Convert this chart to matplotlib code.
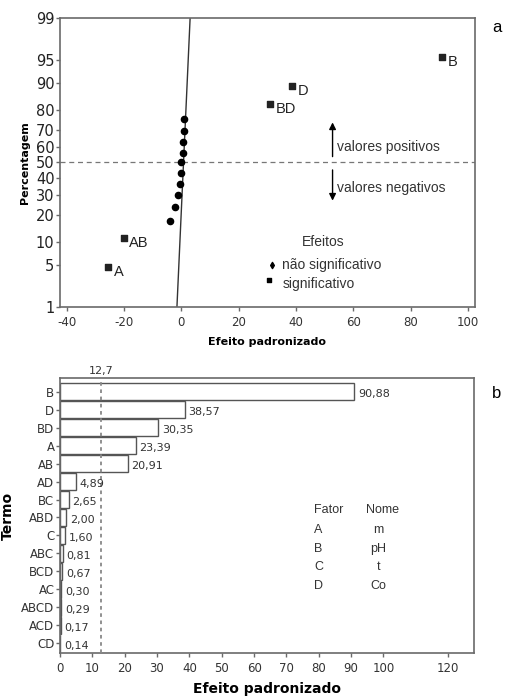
import numpy as np
import matplotlib
matplotlib.use("Agg")
import matplotlib.pyplot as plt
from statistics import NormalDist

# ---------------- data ----------------
# panel a: normal probability plot
sig_labels = ["A", "AB", "BD", "D", "B"]
sig_x = [-25.5, -20.0, 30.9, 38.8, 91.0]
sig_pct = [4.6, 11.2, 82.6, 89.1, 95.5]

nonsig_x = [-3.8, -2.1, -1.2, -0.5, 0.0, 0.0, 0.6, 0.6, 0.9, 0.8]
nonsig_pct = [17.3, 23.5, 30.0, 36.5, 43.0, 50.0, 56.0, 62.7, 69.4, 76.0]

fit_x = [-1.5, 3.1]
fit_pct = [1.0, 99.0]

pct_ticks = [1, 5, 10, 20, 30, 40, 50, 60, 70, 80, 90, 95, 99]
xa_ticks = [-40, -20, 0, 20, 40, 60, 80, 100]

# panel b: Pareto chart
terms = ["B", "D", "BD", "A", "AB", "AD", "BC", "ABD", "C", "ABC", "BCD",
         "AC", "ABCD", "ACD", "CD"]
effects = [90.88, 38.57, 30.35, 23.39, 20.91, 4.89, 2.65, 2.00, 1.60, 0.81,
           0.67, 0.30, 0.29, 0.17, 0.14]
critical = 12.7
xb_ticks = [0, 10, 20, 30, 40, 50, 60, 70, 80, 90, 100, 120]
factors = ["A", "B", "C", "D"]
names = ["m", "pH", "t", "Co"]

# ---------------- helpers ----------------
_nd = NormalDist()
_vppf = np.vectorize(_nd.inv_cdf, otypes=[float])
_vcdf = np.vectorize(_nd.cdf, otypes=[float])


def _fwd(p):
    p = np.asarray(p, dtype=float)
    q = np.clip(p / 100.0, 1e-9, 1 - 1e-9)
    return _vppf(q)


def _inv(z):
    z = np.asarray(z, dtype=float)
    return _vcdf(z) * 100.0


def fmt(v):
    return f"{v:.2f}".replace(".", ",")


W, H = 509, 699
fig = plt.figure(figsize=(W / 100, H / 100), dpi=100)

spine_c = "#6a6a6a"
tick_fs = 8.5
ann_font = ["Liberation Sans", "DejaVu Sans"]

# ---------------- panel a ----------------
axa = fig.add_axes([60 / W, 1 - 307 / H, (475 - 60) / W, (307 - 18) / H])
axa.set_yscale("function", functions=(_fwd, _inv))
axa.set_ylim(1, 99)
axa.set_xlim(-42.3, 102.5)
axa.set_yticks(pct_ticks)
axa.set_yticklabels([str(t) for t in pct_ticks], fontsize=10.5, color="#222222")
axa.yaxis.set_minor_locator(matplotlib.ticker.NullLocator())
axa.set_xticks(xa_ticks)
axa.set_xticklabels([str(t) for t in xa_ticks], fontsize=tick_fs, color="#333333")
for s in axa.spines.values():
    s.set_color(spine_c)
    s.set_linewidth(1.2)
axa.tick_params(direction="out", length=3, color=spine_c, width=1)
axa.tick_params(axis="y", pad=1)

axa.plot(fit_x, fit_pct, color="#333333", lw=1.0, zorder=2)
axa.axhline(50, color="#777777", lw=0.9, ls=(0, (4, 3)), zorder=1)
axa.scatter(nonsig_x, nonsig_pct, marker="o", s=20, color="black", zorder=3)
axa.scatter(sig_x, sig_pct, marker="s", s=20, color="#222222", zorder=3)
for lx, ly, lab in zip(sig_x, sig_pct, sig_labels):
    axa.annotate(lab, (lx, ly), xytext=(4, -3.5),
                 textcoords="offset points", fontsize=10.5, family=ann_font,
                 color="#222222", va="center", ha="left")

# arrows
axa.annotate("", xy=(52.8, 75.5), xytext=(52.8, 52),
             arrowprops=dict(arrowstyle="-|>", color="black", lw=1.0,
                             mutation_scale=10))
axa.annotate("", xy=(52.8, 25.5), xytext=(52.8, 47),
             arrowprops=dict(arrowstyle="-|>", color="black", lw=1.0,
                             mutation_scale=10))
axa.text(54.2, 60, "valores positivos", fontsize=10, family=ann_font,
         color="#333333", va="center", ha="left")
axa.text(54.2, 34, "valores negativos", fontsize=10, family=ann_font,
         color="#333333", va="center", ha="left")

# legend
axa.text(49.5, 10.0, "Efeitos", fontsize=10, family=ann_font, color="#333333",
         ha="center", va="center")
axa.scatter([31.5], [5.0], marker="d", s=10, color="black")
axa.scatter([30.5], [2.9], marker="s", s=7, color="black")
axa.text(35, 5.0, "não significativo", fontsize=10, family=ann_font,
         color="#333333", va="center", ha="left")
axa.text(35.5, 2.55, "significativo", fontsize=10, family=ann_font,
         color="#333333", va="center", ha="left")

axa.set_ylabel("Percentagem", fontsize=8, fontweight="bold", labelpad=4)
axa.set_xlabel("Efeito padronizado", fontsize=8, fontweight="bold", labelpad=6)
fig.text(497 / W, 1 - 28 / H, "a", fontsize=12, family=ann_font, ha="center",
         va="center")

# ---------------- panel b ----------------
axb = fig.add_axes([60 / W, 1 - 653 / H, (474 - 60) / W, (653 - 378) / H])
ypos = np.arange(len(terms))
axb.barh(ypos, effects, height=0.95, color="white", edgecolor="#555555",
         linewidth=1.0, zorder=2)
axb.set_ylim(len(terms) - 1 + 0.54, -0.76)
axb.set_xlim(0, 128)
axb.set_yticks(ypos)
axb.set_yticklabels(terms, fontsize=tick_fs, color="#333333")
axb.set_xticks(xb_ticks)
axb.set_xticklabels([str(t) for t in xb_ticks], fontsize=tick_fs, color="#333333")
for s in axb.spines.values():
    s.set_color(spine_c)
    s.set_linewidth(1.2)
axb.tick_params(direction="out", length=3, color=spine_c, width=1)
axb.tick_params(axis="y", pad=1)
axb.axvline(critical, color="#888888", lw=1.3, ls=(0, (2, 2)), zorder=3)
axb.text(critical, -0.85, "12,7", fontsize=8,
         color="#333333", ha="center", va="bottom")

for yp, v in zip(ypos, effects):
    axb.text(v + 1.2, yp + 0.15, fmt(v), fontsize=8, color="#333333",
             ha="left", va="center", zorder=4)

# factor table
axb.text(78.5, 6.6, "Fator", fontsize=9, family=ann_font, color="#333333",
         ha="left", va="center")
axb.text(94.5, 6.6, "Nome", fontsize=9, family=ann_font, color="#333333",
         ha="left", va="center")
for i, (f, n) in enumerate(zip(factors, names)):
    yy = 7.7 + i * 1.04
    axb.text(78.5, yy, f, fontsize=9, family=ann_font, color="#333333",
             ha="left", va="center")
    axb.text(98.5, yy, n, fontsize=9, family=ann_font, color="#333333",
             ha="center", va="center")

axb.set_xlabel("Efeito padronizado", fontsize=10, fontweight="bold", labelpad=5)
axb.set_ylabel("Termo", fontsize=10, fontweight="bold")
axb.yaxis.set_label_coords(-0.11, 0.5)
fig.text(497 / W, 1 - 393 / H, "b", fontsize=12, family=ann_font, ha="center",
         va="center")

fig.savefig("out.png", dpi=100)
